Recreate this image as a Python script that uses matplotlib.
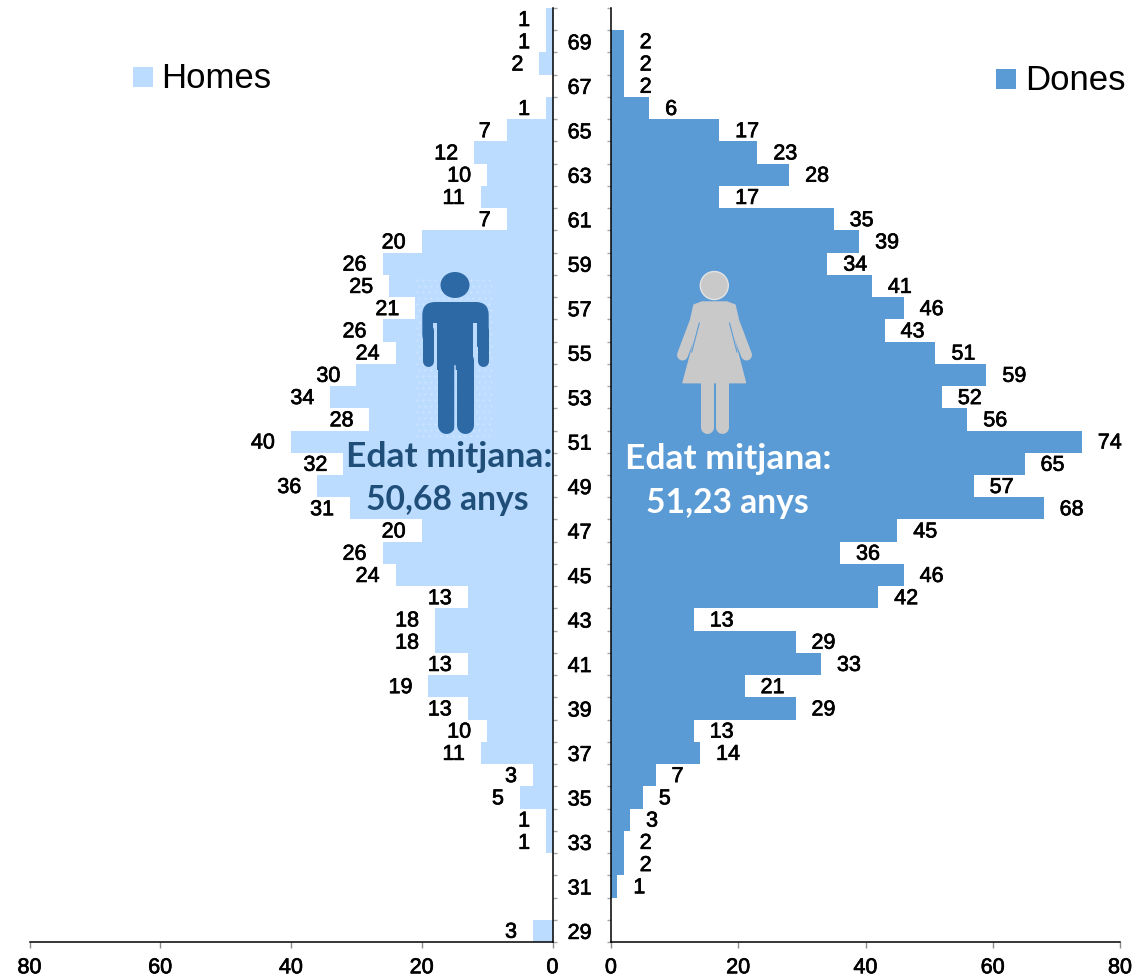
import numpy as np
import matplotlib
matplotlib.use("Agg")
import matplotlib.pyplot as plt
import matplotlib.patheffects as pe
from matplotlib.patches import Rectangle, Circle, Ellipse, Polygon, FancyBboxPatch

plt.rcParams['font.family'] = ['Liberation Sans', 'DejaVu Sans']

ages = list(range(70, 28, -1))
homes = [1, 1, 2, 0, 1, 7, 12, 10, 11, 7, 20, 26, 25, 21, 26, 24, 30, 34, 28, 40, 32,
         36, 31, 20, 26, 24, 13, 18, 18, 13, 19, 13, 10, 11, 3, 5, 1, 1, 0, 0, 0, 3]
dones = [0, 2, 2, 2, 6, 17, 23, 28, 17, 35, 39, 34, 41, 46, 43, 51, 59, 52, 56, 74, 65,
         57, 68, 45, 36, 46, 42, 13, 29, 33, 21, 29, 13, 14, 7, 5, 3, 2, 2, 1, 0, 0]
x_ticks = [0, 20, 40, 60, 80]
age_labels = [a for a in ages if a % 2 == 1]

LIGHT = '#BBDBFF'
BLUE = '#5B9BD5'
DARK = '#2C69A5'
NAVY = '#1F4E79'
GREY = '#C9C9C9'
W, H = 1135, 980
HEAVY = [pe.withStroke(linewidth=0.5, foreground='black')]


def axes_px(x0, x1, y0, y1):
    return [x0 / W, 1 - y1 / H, (x1 - x0) / W, (y1 - y0) / H]


def setup(ax, spine_side):
    for s in ax.spines.values():
        s.set_visible(False)
    ax.spines[spine_side].set_visible(True)
    ax.spines['bottom'].set_visible(True)
    ax.spines[spine_side].set_linewidth(1.1)
    ax.spines['bottom'].set_linewidth(1.1)
    ax.set_xlim(0, 80)
    ax.set_ylim(28.5, 70.5)
    ax.set_xticks(x_ticks)
    ax.tick_params(axis='x', length=4, width=1, color='#8C8C8C', pad=7, labelsize=15.5)
    ax.set_yticks([a - 0.5 for a in ages] + [70.5])
    ax.set_yticklabels([])
    for t in ax.get_xticklabels():
        t.set_path_effects(HEAVY)


fig = plt.figure(figsize=(W / 100, H / 100), dpi=100)
axl = fig.add_axes(axes_px(29.5, 552.5, 8, 942))
axr = fig.add_axes(axes_px(611, 1120, 8, 942))
setup(axl, 'right')
setup(axr, 'left')
axl.invert_xaxis()

barsl = axl.barh(ages, homes, height=1.0, color=LIGHT)
barsr = axr.barh(ages, dones, height=1.0, color=BLUE)
for ax, bars, vals in [(axl, barsl, homes), (axr, barsr, dones)]:
    for t in ax.bar_label(bars, labels=[str(v) if v else '' for v in vals], padding=11.5, fontsize=15.5):
        t.set_path_effects(HEAVY)
        t.xyann = (t.xyann[0], -1.0)

# boundary ticks point into the gap, age labels sit in the middle of it
axl.yaxis.tick_right()
axl.tick_params(axis='y', which='major', length=3, width=1, color='#A6A6A6', labelright=False)
axr.tick_params(axis='y', which='major', length=3, width=1, color='#A6A6A6', labelleft=False)
axl.set_yticks(age_labels, minor=True)
axl.set_yticklabels([str(a) for a in age_labels], minor=True, ha='center', fontsize=15.5,
                    path_effects=HEAVY, va='center_baseline')
axl.tick_params(axis='y', which='minor', length=0, pad=19.5, right=True, labelright=True)

# overlay in pixel coordinates for the legend keys, captions and figures
ov = fig.add_axes([0, 0, 1, 1], facecolor='none')
ov.set_xlim(0, W)
ov.set_ylim(H, 0)
ov.axis('off')
PX = 0.72

ov.add_patch(Rectangle((133, 67), 20, 20, color=LIGHT, lw=0))
ov.text(161, 79, 'Homes', fontsize=25, va='center', ha='left')
ov.add_patch(Rectangle((996, 69), 20, 20, color=BLUE, lw=0))
ov.text(1025, 81, 'Dones', fontsize=25, va='center', ha='left')

# man
gx, gy = np.meshgrid(np.arange(416, 494, 6), np.arange(280, 438, 6))
ov.scatter(gx.ravel() + (gy.ravel() % 12) / 4, gy.ravel(), s=2.5, color='white', alpha=0.3, lw=0)
ov.add_patch(Ellipse((455, 285), 29, 26, color=DARK, lw=0))
ov.add_patch(FancyBboxPatch((422.3, 302), 66.4, 45, boxstyle='round,pad=0,rounding_size=13', color=DARK, lw=0))
for x in (433, 473):
    ov.add_patch(Rectangle((x, 323), 4, 50, color=LIGHT, lw=0))
ov.add_patch(Rectangle((437, 315), 36, 55, color=DARK, lw=0))
for x, y0, y1, w in [(427.7, 330, 361, 11), (483.3, 330, 361, 11), (445.5, 360, 425, 17), (464.5, 360, 425, 17)]:
    ov.plot([x, x], [y0, y1], color=DARK, lw=w * PX, solid_capstyle='round')
ov.plot([455, 455], [366, 434], color=LIGHT, lw=1.5 * PX)

# woman
ov.add_patch(Circle((714.3, 285.5), 14, facecolor=GREY, edgecolor='#E3E3E3', lw=1))
for xa, xb in [(698, 682.5), (731, 746.5)]:
    ov.plot([xa, xb], [314, 355], color=GREY, lw=11 * PX, solid_capstyle='round')
ov.add_patch(Polygon([(702, 302), (727, 302), (735, 305), (738, 318), (730, 323), (745.5, 382.7), (683, 382.7),
                      (699, 323), (691, 318), (694, 305)], closed=True, facecolor=GREY, edgecolor=GREY, lw=1,
                     joinstyle='round'))
ov.plot([699.3, 691.7], [323, 352], color=BLUE, lw=1.1 * PX)
ov.plot([729.5, 737], [323, 352], color=BLUE, lw=1.1 * PX)
for x in (706.5, 722):
    ov.plot([x, x], [380, 427], color=GREY, lw=13 * PX, solid_capstyle='round')

CAPTION = dict(family=['Lato', 'DejaVu Sans'], weight='bold', ha='center', va='center')
ov.text(449, 457, 'Edat mitjana:', color=NAVY, fontsize=25.5, **CAPTION)
ov.text(447, 500, '50,68 anys', color=NAVY, fontsize=24.2, **CAPTION)
ov.text(728, 459, 'Edat mitjana:', color='white', fontsize=25.5, **CAPTION)
ov.text(727, 503, '51,23 anys', color='white', fontsize=24.2, **CAPTION)

fig.savefig('out.png', dpi=100)
